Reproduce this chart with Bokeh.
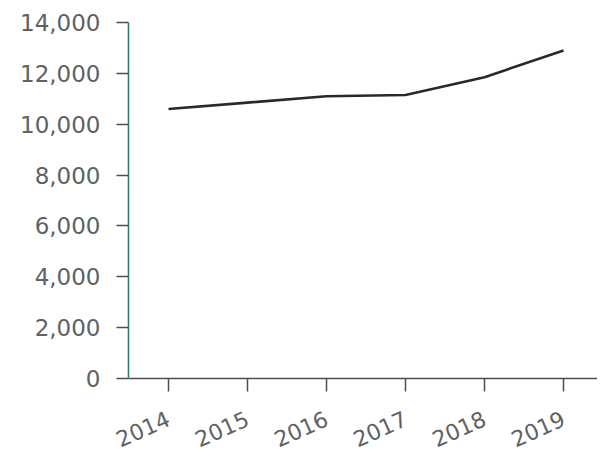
from bokeh.plotting import figure
from bokeh.models import FixedTicker, NumeralTickFormatter, Range1d
from bokeh.embed import file_html
from bokeh.resources import INLINE

years = [2014, 2015, 2016, 2017, 2018, 2019]
values = [10600, 10850, 11100, 11150, 11850, 12900]
y_ticks = [0, 2000, 4000, 6000, 8000, 10000, 12000, 14000]

p = figure(width=597, height=457, output_backend="svg", toolbar_location=None,
           x_range=Range1d(2013.494, 2019.43), y_range=Range1d(0, 14000),
           min_border_left=128, min_border_right=0, min_border_top=22, min_border_bottom=79)
p.outline_line_color = None
p.grid.visible = False
p.background_fill_color = "white"

p.line(years, values, line_color="#262a2a", line_width=2.6)

xa = p.xaxis[0]
xa.ticker = FixedTicker(ticks=years)
xa.major_label_orientation = 0.42
xa.major_label_text_font = "DejaVu Sans"
xa.major_label_text_font_size = "22px"
xa.major_label_text_color = "#5e6262"
xa.axis_line_color = "#4a4f4f"
xa.axis_line_width = 1.5
xa.major_tick_line_color = "#4a4f4f"
xa.major_tick_line_width = 1.5
xa.major_tick_out = 13
xa.major_tick_in = 0
xa.minor_tick_line_color = None
xa.major_label_standoff = 26

ya = p.yaxis[0]
ya.ticker = FixedTicker(ticks=y_ticks)
ya.formatter = NumeralTickFormatter(format="0,0")
ya.major_label_text_font = "DejaVu Sans"
ya.major_label_text_font_size = "23px"
ya.major_label_text_color = "#5e6262"
ya.axis_line_color = "#2f7f74"
ya.axis_line_width = 1.6
ya.major_tick_line_color = "#4a4f4f"
ya.major_tick_line_width = 1.5
ya.major_tick_out = 12
ya.major_tick_in = 0
ya.minor_tick_line_color = None
ya.major_label_standoff = 16

open("out.html", "w").write(file_html(p, INLINE))
